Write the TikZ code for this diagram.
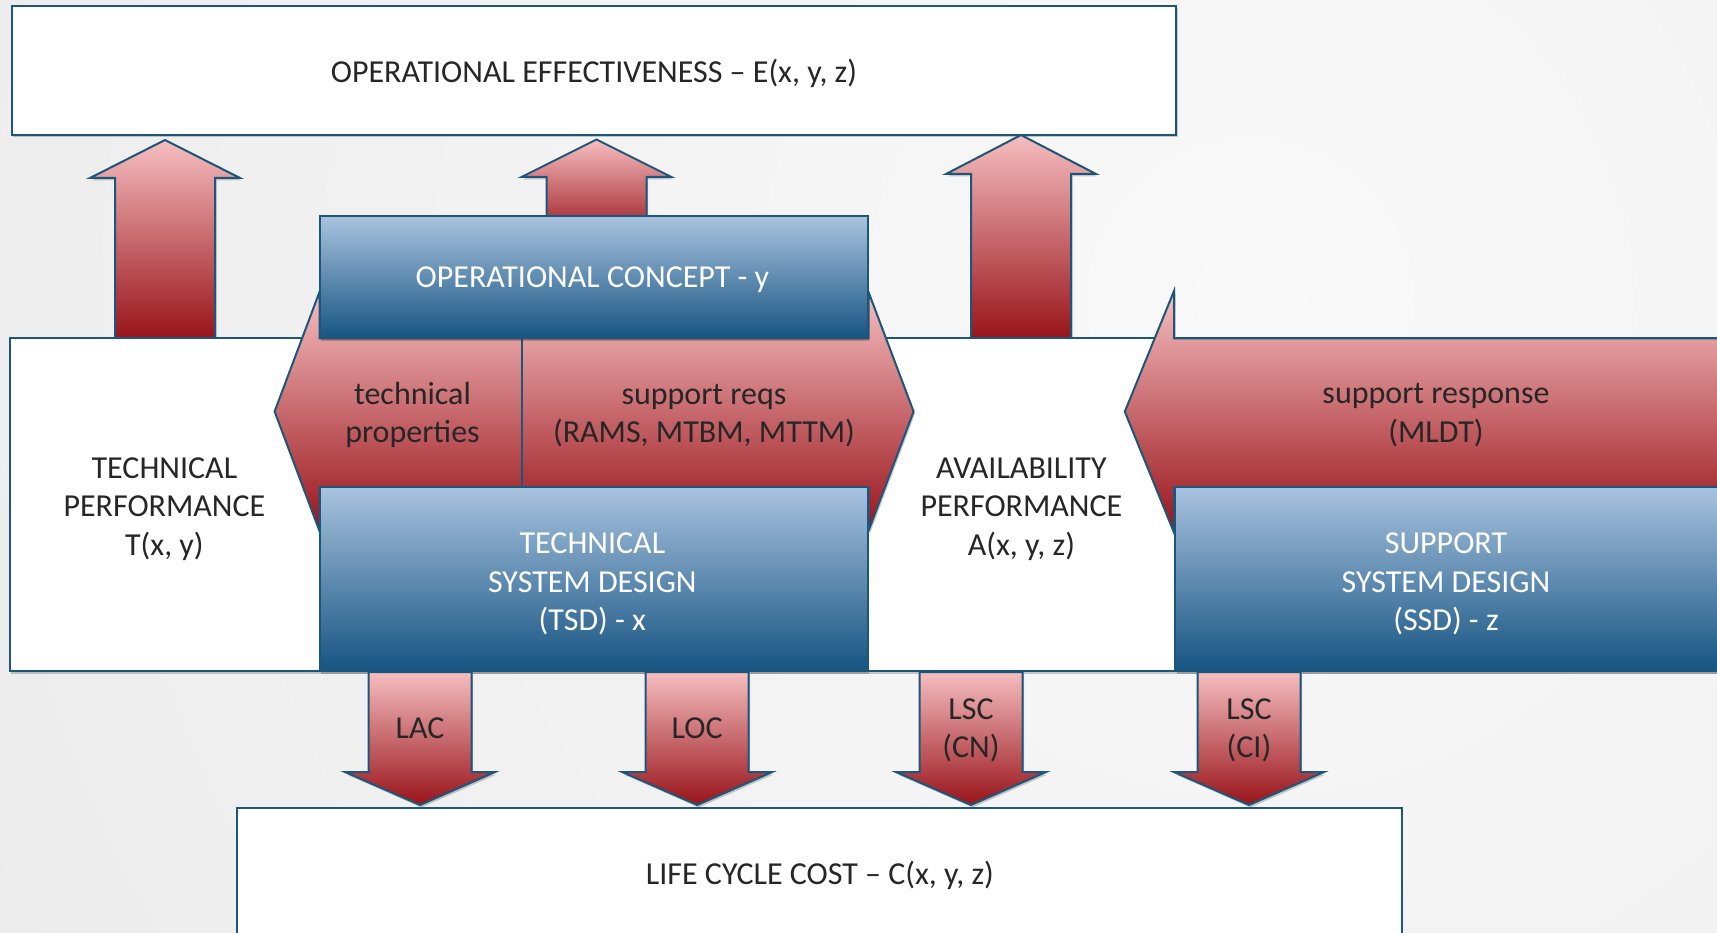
\documentclass[tikz,border=0pt]{standalone}
\usepackage{fontspec}
\setmainfont{Carlito}
\usetikzlibrary{shadows}

\definecolor{edge}{RGB}{28,86,122}
\definecolor{redtop}{RGB}{246,190,192}
\definecolor{redmid}{RGB}{214,148,150}
\definecolor{redbot}{RGB}{152,20,26}
\definecolor{bluetop}{RGB}{169,195,223}
\definecolor{bluemid}{RGB}{120,152,188}
\definecolor{bluebot}{RGB}{22,84,130}
\definecolor{ink}{RGB}{38,38,38}
\definecolor{bgedge}{RGB}{228,228,228}
\definecolor{bgmid}{RGB}{249,249,249}

\tikzset{
  outline/.style={draw=edge, line width=2pt},
  shadowed/.style={drop shadow={shadow xshift=1.5pt, shadow yshift=-2.5pt, opacity=0.2, fill=black}},
  whitebox/.style={outline, fill=white, shadowed},
  bluebox/.style={outline, top color=bluetop, middle color=bluemid, bottom color=bluebot, shadowed},
  redarrow/.style={outline, top color=redtop, middle color=redmid, bottom color=redbot, shadowed},
  darktxt/.style={text=ink, align=center, inner sep=0pt, font=\fontsize{32}{38.5}\selectfont},
  lighttxt/.style={darktxt, text=white},
}

% block arrow pointing up: centre x, tip y, head base y, bottom y
\newcommand\blockuparrow[4]{%
  \path[redarrow] (#1-50,#4) -- (#1-50,#3) -- (#1-75,#3) -- (#1,#2)
    -- (#1+75,#3) -- (#1+50,#3) -- (#1+50,#4) -- cycle;}
% block arrow pointing down: centre x
\newcommand\blockdownarrow[1]{%
  \path[redarrow] (#1-51.5,672) -- (#1+51.5,672) -- (#1+51.5,772) -- (#1+75,772)
    -- (#1,805) -- (#1-75,772) -- (#1-51.5,772) -- cycle;}

\begin{document}
\begin{tikzpicture}[x=1pt, y=-1pt]
\useasboundingbox (0,0) rectangle (1717,933);
\clip (0,0) rectangle (1717,933);

% soft grey backdrop
\fill[bgedge] (0,0) rectangle (1717,933);
\shade[inner color=bgmid, outer color=bgedge] (1250,300) circle (2300);

% operational effectiveness
\path[whitebox] (11.5,6) rectangle (1176,135);

% upward arrows
\blockuparrow{165}{140}{178}{338.3}
\blockuparrow{596.5}{139.5}{177}{240}
\blockuparrow{1021}{135}{174}{338.3}

% performance band
\path[whitebox] (9.6,338.3) rectangle (1730,671);

% two-headed arrow between the designs
\path[redarrow] (274.6,411.5) -- (319.5,292) -- (319.5,338.3) -- (868.5,338.3)
  -- (868.5,292) -- (913.6,411.5) -- (868.5,531) -- (868.5,487) -- (319.5,487)
  -- (319.5,531) -- cycle;
\draw[outline] (522.3,338.3) -- (522.3,487);

% support response arrow
\path[redarrow] (1124.8,411.7) -- (1174,291) -- (1174,338.3) -- (1730,338.3)
  -- (1730,487) -- (1174,487) -- (1174,532.5) -- cycle;

% design boxes
\path[bluebox] (319.5,216) rectangle (867.5,338.3);
\path[bluebox] (319.5,487.3) rectangle (867.5,671);
\path[bluebox] (1175,487.3) rectangle (1730,671);

% downward cost arrows
\blockdownarrow{420}
\blockdownarrow{697.2}
\blockdownarrow{971}
\blockdownarrow{1249}

% life cycle cost
\path[whitebox] (236.7,808.3) rectangle (1401.6,960);

% texts
\node[darktxt] (eff) at (594,73) {OPERATIONAL EFFECTIVENESS – E(x, y, z)};
\node[darktxt] (tperf) at (164.4,509) {TECHNICAL\\PERFORMANCE\\T(x, y)};
\node[darktxt] (aperf) at (1021.4,509) {AVAILABILITY\\PERFORMANCE\\A(x, y, z)};
\node[darktxt] (tprop) at (412.5,415) {technical\\properties};
\node[darktxt] (sreq) at (704,415.5) {support reqs\\(RAMS, MTBM, MTTM)};
\node[darktxt] (sresp) at (1436,415) {support response\\(MLDT)};
\node[lighttxt] (opc) at (592.4,280) {OPERATIONAL CONCEPT - y};
\node[lighttxt] (tsd) at (592.4,584) {TECHNICAL\\SYSTEM DESIGN\\(TSD) - x};
\node[lighttxt] (ssd) at (1446,584) {SUPPORT\\SYSTEM DESIGN\\(SSD) - z};
\node[darktxt] (lac) at (420,728) {LAC};
\node[darktxt] (loc) at (697.2,728) {LOC};
\node[darktxt] (lscn) at (971,730.5) {LSC\\(CN)};
\node[darktxt] (lsci) at (1249,730.5) {LSC\\(CI)};
\node[darktxt] (lcc) at (820,875.5) {LIFE CYCLE COST – C(x, y, z)};
\end{tikzpicture}
\end{document}
